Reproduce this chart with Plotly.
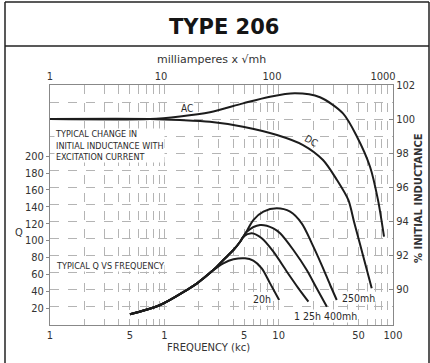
import plotly.graph_objects as go

# ---- Q vs frequency (kc), bottom / left axes ----
q20h_f = [0.5, 0.92, 1.57, 1.92, 2.68, 3.28, 4.02, 5.08, 6.0, 7.11, 8.41, 10.1]
q20h_q = [12.7, 23.7, 41.4, 49.0, 65.0, 73.0, 77.8, 79.0, 76.2, 67.1, 49.3, 29.6]

q125h_f = [0.5, 0.92, 1.57, 1.92, 2.68, 3.28, 4.02, 4.6, 4.91, 5.82, 7.11, 8.99, 11.8, 14.9, 18.2]
q125h_q = [12.7, 23.7, 41.4, 49.0, 65.0, 77.0, 88.8, 98.6, 104.6, 108.6, 102.7, 86.8, 63.1, 43.4, 27.6]

q400mh_f = [0.5, 0.92, 1.57, 1.92, 2.68, 3.28, 4.02, 4.6, 5.26, 6.88, 8.99, 10.3, 13.45, 17.6, 21.5, 26.4]
q400mh_q = [12.7, 23.7, 41.4, 49.0, 65.0, 77.0, 88.8, 98.6, 110.5, 118.4, 114.5, 108.6, 88.8, 65.1, 43.4, 21.7]

q250mh_f = [0.5, 0.92, 1.57, 1.92, 2.68, 3.28, 4.02, 4.6, 5.3, 6.0, 7.35, 9.63, 12.6, 15.9, 19.5, 23.8, 28.2, 32.2]
q250mh_q = [12.7, 23.7, 41.4, 49.0, 65.0, 77.0, 88.8, 98.6, 112.0, 124.3, 134.2, 138.2, 134.2, 120.4, 96.7, 71.0, 47.4, 29.6]

# ---- % initial inductance vs milliamperes x sqrt(mh), top / right axes ----
ac_ma = [1, 7.96, 14.8, 27.6, 54.8, 95.9, 161.2, 270.6, 436, 583, 764, 901, 1021]
ac_pct = [100.0, 100.0, 100.15, 100.4, 100.92, 101.31, 101.51, 101.28, 100.33, 98.96, 97.19, 95.24, 93.08]

dc_ma = [1, 7.96, 14.8, 27.6, 54.8, 110.9, 190.3, 288, 385, 487, 548, 621, 703, 791]
dc_pct = [100.0, 100.0, 99.94, 99.84, 99.55, 99.06, 98.47, 97.59, 96.41, 95.24, 93.96, 92.63, 91.31, 90.04]

# ---- axis ticks ----
freq_ticks = [0.1, 0.5, 1, 5, 10, 50, 100]
freq_tick_text = ["1", "5", "1", "5", "10", "50", "100"]
freq_grid = [k * 10 ** d for d in (-1, 0, 1) for k in range(1, 10)] + [100]
ma_ticks = [1, 10, 100, 1000]
q_ticks = [20, 40, 60, 80, 100, 120, 140, 160, 180, 200]
pct_ticks = [90, 92, 94, 96, 98, 100, 102]
pct_grid = list(range(89, 103))

INK = "#1c1c1c"
GRID = "#b4b4b4"
TXT = "#2a2a2a"
FONT = "DejaVu Sans Condensed, DejaVu Sans, Liberation Sans, sans-serif"

fig = go.Figure()

q_series = [
    ("20h", q20h_f, q20h_q),
    ("1 25h", q125h_f, q125h_q),
    ("400mh", q400mh_f, q400mh_q),
    ("250mh", q250mh_f, q250mh_q),
]
for name, f, q in q_series:
    fig.add_trace(go.Scatter(x=f, y=q, mode="lines", name=name, xaxis="x", yaxis="y",
                             line=dict(color=INK, width=2, shape="spline", smoothing=0.9),
                             showlegend=False, hoverinfo="skip"))

for name, m, p in [("AC", ac_ma, ac_pct), ("DC", dc_ma, dc_pct)]:
    fig.add_trace(go.Scatter(x=m, y=p, mode="lines", name=name, xaxis="x2", yaxis="y2",
                             line=dict(color=INK, width=2, shape="spline", smoothing=0.8),
                             showlegend=False, hoverinfo="skip"))

# plot area: x 50..393 px, y 85..325 px
L, R, T, B = 50, 393, 85, 325
W, H = 430, 363


def px(x):
    return (x - L) / (R - L)


def py(y):
    return (B - y) / (B - T)


def note(text, x, y, size=10, anchor="center", color=TXT, bold=False, angle=0, bg=None, family=FONT):
    if bold:
        text = "<b>" + text + "</b>"
    fig.add_annotation(xref="paper", yref="paper", x=px(x), y=py(y), text=text,
                       showarrow=False, xanchor=anchor, yanchor="middle", textangle=angle,
                       font=dict(size=size, color=color, family=family),
                       bgcolor=bg, borderpad=0, align="left")


# titles and axis captions
note("TYPE 206", 224, 27, size=21, bold=True, color="#151515", family="DejaVu Sans, sans-serif")
note("milliamperes x √mh", 211, 60, size=11, color="#333", family="DejaVu Sans, sans-serif")
note("FREQUENCY (kc)", 208, 347, size=10, color="#333", family="DejaVu Sans, sans-serif")
note("Q", 19, 232, size=11, color="#333")
note("% INITIAL INDUCTANCE", 418, 198, size=10, bold=True, angle=-90, color="#333",
     family="DejaVu Sans, sans-serif")

# inner captions
note("TYPICAL CHANGE IN<br>INITIAL INDUCTANCE WITH<br>EXCITATION CURRENT", 54, 145, size=9,
     anchor="left", bg="white")
note("TYPICAL Q VS FREQUENCY", 55, 266, size=9, anchor="left", bg="white")

# curve labels
note("AC", 187, 108, size=10)
note("DC", 311, 140, size=10, angle=30)
note("20h", 262, 299, size=10.5, bg="white")
note("1 25h", 307, 316, size=10.5, bg="white")
note("400mh", 340, 316, size=10.5, bg="white")
note("250mh", 358, 298, size=10.5, bg="white")

# outer frame and title rule
for x0, y0, x1, y1 in [(5, 2, 429, 2), (5, 2, 5, 363), (429, 2, 429, 363), (5, 46, 429, 46)]:
    fig.add_shape(type="line", xref="paper", yref="paper",
                  x0=px(x0), y0=py(y0), x1=px(x1), y1=py(y1),
                  line=dict(color="#222", width=1.5))

tickfont = dict(size=11, color="#333", family=FONT)

fig.update_layout(
    width=W, height=H,
    margin=dict(l=L, r=W - R, t=T, b=H - B, pad=0),
    paper_bgcolor="white", plot_bgcolor="white",
    xaxis=dict(type="log", range=[-1, 2], tickvals=freq_ticks, ticktext=freq_tick_text,
               showgrid=True, gridcolor=GRID, gridwidth=1, griddash="dash",
               minor=dict(tickvals=freq_grid, showgrid=True, gridcolor=GRID, gridwidth=1, griddash="dash"),
               showline=True, linecolor="#888", linewidth=1, ticks="", zeroline=False,
               tickfont=tickfont),
    xaxis2=dict(type="log", range=[0, 3.09], overlaying="x", side="top", anchor="y",
                tickvals=ma_ticks, ticktext=[str(v) for v in ma_ticks],
                showgrid=False, showline=True, linecolor="#888", linewidth=1, ticks="",
                tickfont=tickfont),
    yaxis=dict(range=[0, (B - T) / 0.8444], tickvals=q_ticks, showgrid=False, zeroline=False,
               showline=True, linecolor="#888", linewidth=1, ticks="outside", ticklen=3,
               tickcolor="#888", tickfont=tickfont),
    yaxis2=dict(range=[102 - (B - T) / 17.0, 102], overlaying="y", side="right", anchor="x",
                tickvals=pct_ticks, showgrid=False, zeroline=False,
                minor=dict(tickvals=pct_grid, showgrid=True, gridcolor=GRID, gridwidth=1, griddash="dash"),
                showline=True, linecolor="#888", linewidth=1, ticks="inside", ticklen=4,
                tickcolor="#888", tickfont=tickfont),
)

fig.write_html("out.html")
